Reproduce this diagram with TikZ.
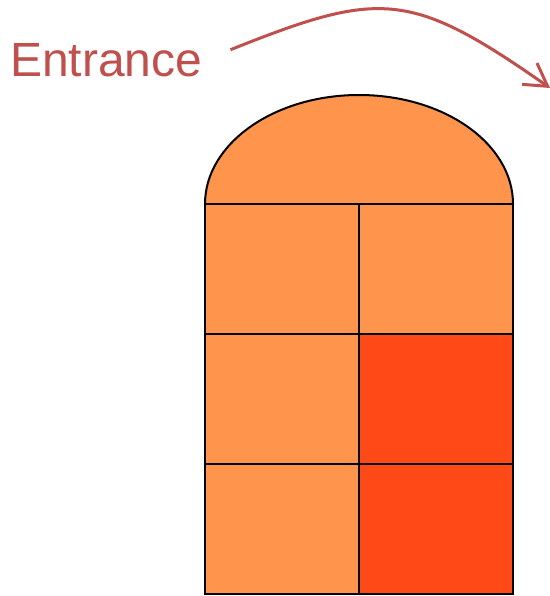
\documentclass[tikz,border=0pt]{standalone}
\usepackage{fontspec}
\setmainfont{Liberation Sans}
\usepackage{tikz}
\usetikzlibrary{arrows.meta, positioning}
\definecolor{lightroom}{RGB}{255, 148, 76}
\definecolor{darkroom}{RGB}{255, 74, 23}
\definecolor{signred}{RGB}{192, 80, 77}

\begin{document}
\begin{tikzpicture}[
    x=1pt, y=-1pt,
    node distance=0pt,
    room/.style={rectangle, draw=black, line width=2pt, fill=lightroom, minimum width=154pt, minimum height=130pt, inner sep=0pt, outer sep=0pt},
    hotroom/.style={room, fill=darkroom},
    label_text/.style={text=signred, font=\fontsize{48}{56}\selectfont, inner sep=0pt, anchor=base west},
    arr/.style={-{Straight Barb[length=22pt, width=26pt]}, line width=3pt, color=signred}
]
    \useasboundingbox (0,0) rectangle (549,596);

    \node[label_text] (entrance) at (10,77) {Entrance};
    \coordinate (doorway) at (550,88);

    % dome on top
    \draw[line width=2pt, fill=lightroom] (205,204) arc[start angle=180, end angle=0, x radius=154pt, y radius=109pt] -- cycle;

    \node[room, anchor=north west] (r1c1) at (205,204) {};
    \node[room, right=of r1c1] (r1c2) {};
    \node[room, below=of r1c1] (r2c1) {};
    \node[hotroom, right=of r2c1] (r2c2) {};
    \node[room, below=of r2c1] (r3c1) {};
    \node[hotroom, right=of r3c1] (r3c2) {};

    \draw[arr] ([xshift=28pt, yshift=11pt]entrance.east) .. controls (380,-10) and (410,-10) .. (doorway);
\end{tikzpicture}
\end{document}
